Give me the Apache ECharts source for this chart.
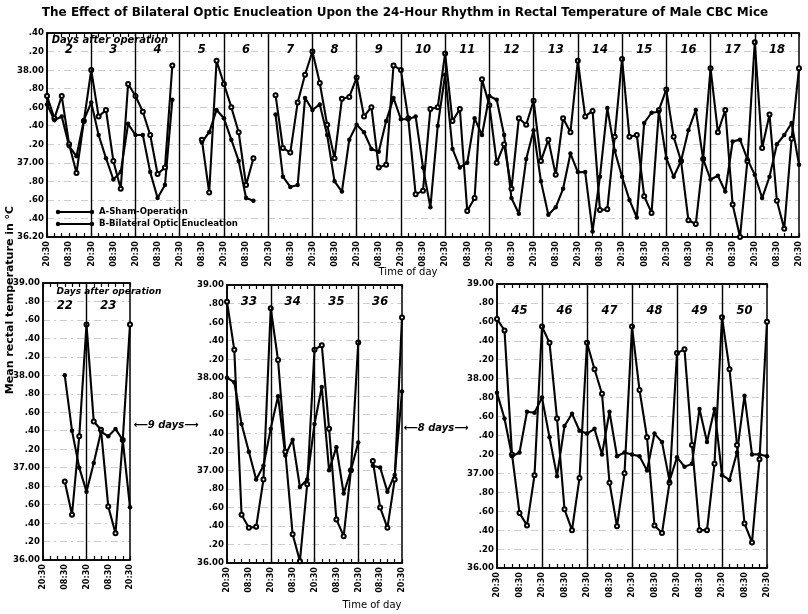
<!DOCTYPE html>
<html>
<head>
<meta charset="utf-8">
<script src="https://cdn.jsdelivr.net/npm/echarts@6/dist/echarts.min.js"></script>
<style>
  html, body { margin: 0; padding: 0; background: #fff; }
  #chart { width: 808px; height: 614px; }
</style>
</head>
<body>
<div id="chart"></div>
<script>
// readings every 4 hours, starting at 20:30 of the first day shown
// A = sham operation, B = bilateral optic enucleation
const topDays = ['2','3','4','5','6','7','8','9','10','11','12','13','14','15','16','17','18'];
const topSham = [
  37.72, 37.48, 37.72, 37.20, 36.89, 37.45,   // 2
  38.00, 37.50, 37.57, 37.02, 36.72, 37.85,   // 3
  37.72, 37.55, 37.30, 36.88, 36.95, 38.05,   // 4
  null, null, null, 37.25, 36.68, 38.10,      // 5
  37.85, 37.60, 37.33, 36.76, 37.05, null,    // 6
  null, 37.73, 37.16, 37.11, 37.65, 37.95,    // 7
  38.20, 37.86, 37.41, 37.05, 37.69, 37.71,   // 8
  37.92, 37.50, 37.60, 36.95, 36.98, 38.05,   // 9
  38.00, 37.48, 36.66, 36.70, 37.58, 37.60,   // 10
  38.18, 37.45, 37.58, 36.48, 36.62, 37.90,   // 11
  37.62, 37.00, 37.20, 36.72, 37.48, 37.41,   // 12
  37.67, 37.02, 37.25, 36.87, 37.48, 37.33,   // 13
  38.10, 37.50, 37.56, 36.49, 36.50, 37.28,   // 14
  38.12, 37.28, 37.30, 36.64, 36.46, 37.57,   // 15
  37.79, 37.28, 37.02, 36.38, 36.34, 37.04,   // 16
  38.02, 37.33, 37.57, 36.55, 36.20, 37.02,   // 17
  38.30, 37.16, 37.52, 36.59, 36.29, 37.26, 38.02  // 18
];
const topBlind = [
  37.63, 37.46, 37.50, 37.18, 37.07, 37.46,
  37.65, 37.30, 37.05, 36.82, 36.90, 37.42,
  37.30, 37.30, 36.90, 36.62, 36.76, 37.68,
  null, null, null, 37.22, 37.33, 37.57,
  37.48, 37.25, 37.02, 36.62, 36.59, null,
  null, 37.52, 36.85, 36.74, 36.76, 37.70,
  37.57, 37.63, 37.30, 36.80, 36.69, 37.25,
  37.41, 37.33, 37.15, 37.12, 37.45, 37.70,
  37.47, 37.47, 37.50, 36.95, 36.52, 37.40,
  37.95, 37.15, 36.95, 37.00, 37.48, 37.30,
  37.72, 37.68, 37.30, 36.62, 36.45, 37.04,
  37.35, 36.80, 36.44, 36.52, 36.72, 37.10,
  36.90, 36.90, 36.26, 36.85, 37.59, 37.13,
  36.85, 36.60, 36.41, 37.43, 37.54, 37.55,
  37.05, 36.85, 37.02, 37.35, 37.57, 37.04,
  36.82, 36.86, 36.69, 37.23, 37.25, 37.04,
  36.87, 36.62, 36.85, 37.20, 37.30, 37.43, 36.98
];

const leftDays = ['22','23'];
const leftSham = [null, null, null, 36.85, 36.49, 37.34, 38.55, 37.50, 37.41, 36.58, 36.29, 37.30, 38.55];
const leftBlind = [null, null, null, 38.00, 37.40, 37.00, 36.74, 37.05, 37.39, 37.34, 37.42, 37.30, 36.57];

const midDays = ['33','34','35','36'];
const midSham = [38.82, 38.30, 36.52, 36.38, 36.39, 36.90, 38.75, 38.19, 37.20, 36.31, 36.02, 36.85,
  38.30, 38.35, 37.45, 36.47, 36.29, 37.00, 38.38, null, 37.10, 36.60, 36.38, 36.90, 38.65];
const midBlind = [38.00, 37.95, 37.50, 37.20, 36.90, 37.05, 37.45, 37.80, 37.16, 37.33, 36.82, 36.90,
  37.50, 37.90, 37.00, 37.25, 36.75, 37.00, 37.30, null, 37.05, 37.03, 36.77, 36.95, 37.85];

const rightDays = ['45','46','47','48','49','50'];
const rightSham = [38.63, 38.51, 37.20, 36.58, 36.45, 36.98, 38.55, 38.38, 37.58, 36.62, 36.40, 36.95,
  38.38, 38.10, 37.84, 36.90, 36.44, 37.00, 38.55, 37.88, 37.38, 36.45, 36.37, 36.90,
  38.27, 38.31, 37.30, 36.40, 36.40, 37.10, 38.65, 38.10, 37.30, 36.47, 36.27, 37.15, 38.60];
const rightBlind = [37.85, 37.58, 37.18, 37.22, 37.65, 37.64, 37.80, 37.38, 36.97, 37.50, 37.63, 37.45,
  37.42, 37.47, 37.20, 37.65, 37.18, 37.22, 37.20, 37.18, 37.03, 37.42, 37.33, 36.92,
  37.17, 37.07, 37.10, 37.68, 37.33, 37.68, 36.98, 36.93, 37.22, 37.82, 37.20, 37.20, 37.18];

const chart = echarts.init(document.getElementById('chart'));

const ink = '#000';
const toPairs = arr => arr.map((v, i) => [i * 4, v]);
const timeLabel = v => (v % 24 === 0 ? '20:30' : '08:30');
const tempLabel = min => v => {
  const s = v.toFixed(2);
  if (Math.abs(v - Math.round(v)) < 1e-6 || Math.abs(v - min) < 1e-6) return s;
  return s.slice(s.indexOf('.'));
};

// panel layout: grid box, y range, day labels height
const panels = [
  { grid: { left: 47, top: 33, width: 752, height: 204 }, min: 36.2, max: 38.4, days: topDays, sham: topSham, blind: topBlind, dayY: 38.22 },
  { grid: { left: 43, top: 283, width: 87, height: 277 }, min: 36, max: 39, days: leftDays, sham: leftSham, blind: leftBlind, dayY: 38.75 },
  { grid: { left: 227, top: 285, width: 175, height: 278 }, min: 36, max: 39, days: midDays, sham: midSham, blind: midBlind, dayY: 38.82 },
  { grid: { left: 497, top: 284, width: 270, height: 284 }, min: 36, max: 39, days: rightDays, sham: rightSham, blind: rightBlind, dayY: 38.71 }
];

const grids = [], xAxes = [], yAxes = [], series = [];
panels.forEach((p, k) => {
  grids.push(Object.assign({ show: true, borderColor: ink, borderWidth: 1.5, backgroundColor: 'transparent' }, p.grid));
  const maxH = (p.sham.length - 1) * 4;
  const tickStyle = {
    axisTick: { inside: true, length: 4, lineStyle: { color: ink, width: 1.2 } },
    minorTick: { show: true, splitNumber: 3, length: 4, lineStyle: { color: ink, width: 1.2 } },
    splitLine: { show: false }
  };
  xAxes.push(Object.assign({
    type: 'value', gridIndex: k, min: 0, max: maxH, interval: 12,
    axisLine: { lineStyle: { color: ink, width: 1.5 } },
    axisLabel: { rotate: 90, margin: 4, fontSize: 9, fontWeight: 'bold', color: ink, fontFamily: 'DejaVu Sans Condensed', formatter: timeLabel }
  }, tickStyle));
  // same scale on the top edge, ticks only
  xAxes.push(Object.assign({
    type: 'value', gridIndex: k, position: 'top', min: 0, max: maxH, interval: 12,
    axisLine: { lineStyle: { color: ink, width: 1.5 } },
    axisLabel: { show: false }
  }, tickStyle));
  yAxes.push({
    type: 'value', gridIndex: k, min: p.min, max: p.max, interval: 0.2,
    axisLine: { show: true, lineStyle: { color: ink, width: 1.5 } },
    axisTick: { show: false },
    splitLine: { show: true, lineStyle: { color: '#333', width: 0.8, type: [7, 4, 2, 4], opacity: 0.3 } },
    axisLabel: { margin: 3, fontSize: 9.5, fontWeight: 'bold', color: ink, fontFamily: 'DejaVu Sans Condensed', formatter: tempLabel(p.min) }
  });
  const xi = k * 2;
  const bounds = p.days.slice(1).map((d, i) => ({ xAxis: (i + 1) * 24 }));
  series.push({
    name: 'A-Sham-Operation', type: 'line', xAxisIndex: xi, yAxisIndex: k,
    data: toPairs(p.sham), symbol: 'emptyCircle', symbolSize: 4,
    lineStyle: { color: ink, width: 2.1 }, itemStyle: { color: ink, borderWidth: 1.2 },
    markLine: { silent: true, symbol: 'none', label: { show: false },
      lineStyle: { color: ink, width: 1.4, type: 'solid' }, data: bounds }
  });
  series.push({
    name: 'B-Bilateral Optic Enucleation', type: 'line', xAxisIndex: xi, yAxisIndex: k,
    data: toPairs(p.blind), symbol: 'circle', symbolSize: 4.5,
    lineStyle: { color: ink, width: 2.1 }, itemStyle: { color: ink }
  });
  series.push({
    type: 'scatter', xAxisIndex: xi, yAxisIndex: k, symbolSize: 0, silent: true,
    itemStyle: { color: ink, opacity: 1 },
    data: p.days.map((d, i) => [i * 24 + 12, p.dayY, d]),
    label: { show: true, position: 'inside', formatter: q => q.data[2],
      fontSize: 11.5, fontStyle: 'italic', fontWeight: 'bold', color: '#000', opacity: 1, fontFamily: 'DejaVu Sans' }
  });
});

const txt = (x, y, s, o) => ({ type: 'text', x, y, style: Object.assign({ text: s, fill: ink, fontFamily: 'DejaVu Sans Condensed', fontWeight: 'bold', fontSize: 10, align: 'center', verticalAlign: 'middle' }, o || {}) });
const legendRow = (y, s) => ({ type: 'group', children: [
  { type: 'line', shape: { x1: 58, y1: y, x2: 92, y2: y }, style: { stroke: ink, lineWidth: 2 } },
  { type: 'circle', shape: { cx: 58, cy: y, r: 2.2 }, style: { fill: ink } },
  { type: 'circle', shape: { cx: 92, cy: y, r: 2.2 }, style: { fill: ink } },
  txt(99, y, s, { align: 'left', fontSize: 9.5 })
] });

chart.setOption({
  animation: false,
  backgroundColor: '#fff',
  grid: grids, xAxis: xAxes, yAxis: yAxes, series,
  graphic: [
    txt(405, 13, 'The Effect of Bilateral Optic Enucleation Upon the 24-Hour Rhythm in Rectal Temperature of Male CBC Mice', { fontSize: 12, fontFamily: 'DejaVu Sans' }),
    txt(110, 40, 'Days after operation', { fontStyle: 'italic', fontSize: 10, fontFamily: 'DejaVu Sans' }),
    txt(109, 292, 'Days after operation', { fontStyle: 'italic', fontSize: 9, fontFamily: 'DejaVu Sans' }),
    legendRow(212, 'A-Sham-Operation'),
    legendRow(224, 'B-Bilateral Optic Enucleation'),
    txt(408, 272, 'Time of day', { fontSize: 10, fontWeight: 'normal', fontFamily: 'DejaVu Sans' }),
    txt(372, 605, 'Time of day', { fontSize: 10, fontWeight: 'normal', fontFamily: 'DejaVu Sans' }),
    Object.assign(txt(10, 300, 'Mean rectal temperature in °C', { fontSize: 11, fontFamily: 'DejaVu Sans' }), { rotation: Math.PI / 2 }),
    txt(166, 425, '⟵9 days⟶', { fontStyle: 'italic', fontSize: 10, fontFamily: 'DejaVu Sans' }),
    txt(436, 428, '⟵8 days⟶', { fontStyle: 'italic', fontSize: 10, fontFamily: 'DejaVu Sans' })
  ]
});
window.addEventListener('resize', () => chart.resize());
</script>
</body>
</html>
